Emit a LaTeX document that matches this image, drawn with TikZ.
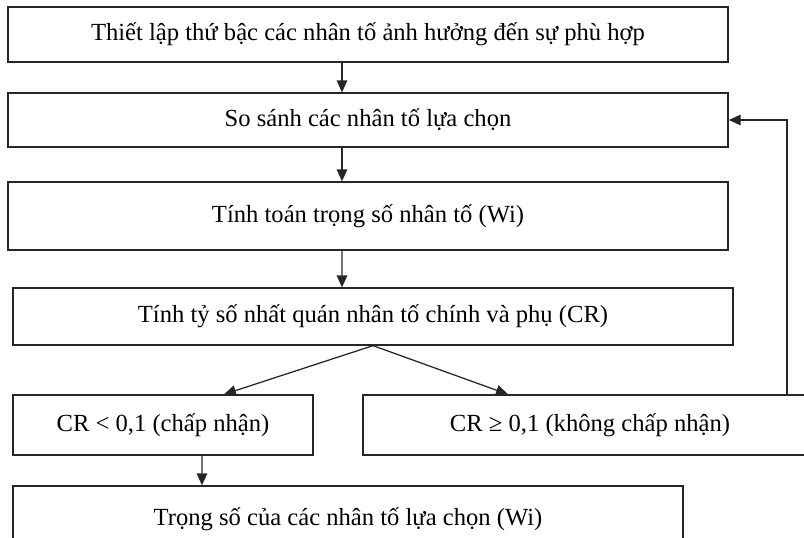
\documentclass[tikz,border=0pt]{standalone}
\usepackage{fontspec}
\setmainfont{Liberation Serif}
\usepackage{tikz}
\usetikzlibrary{arrows.meta, positioning, calc}

\begin{document}
\begin{tikzpicture}[
  x=0.025cm, y=-0.025cm,
  stepbox/.style={rectangle, draw=black!85, line width=0.9pt, align=center, inner sep=2pt, font=\fontsize{17.5}{21}\selectfont},
  arrow/.style={-{Triangle[length=8.5pt, width=7.5pt]}, line width=0.9pt, draw=black!85}
]
  \useasboundingbox (0,0) rectangle (804,538);

  % Main chain of steps
  \node[stepbox, minimum width=18cm, minimum height=1.375cm] (hier) at (368,34.5) {Thiết lập thứ bậc các nhân tố ảnh hưởng đến sự phù hợp};
  \node[stepbox, minimum width=18cm, minimum height=1.35cm] (cmp) at (368,120) {So sánh các nhân tố lựa chọn};
  \node[stepbox, minimum width=18cm, minimum height=1.7cm] (wgt) at (368,216) {Tính toán trọng số nhân tố (Wi)};
  \node[stepbox, minimum width=18cm, minimum height=1.425cm] (cr) at (373,316.5) {Tính tỷ số nhất quán nhân tố chính và phụ (CR)};

  % Consistency check outcomes
  \node[stepbox, minimum width=7.5cm, minimum height=1.5cm] (ok) at (163,425) {CR < 0,1 (chấp nhận)};
  \node[stepbox, minimum width=11.35cm, minimum height=1.5cm] (notok) at (590,425) {CR ≥ 0,1 (không chấp nhận)};

  % Final result
  \node[stepbox, minimum width=16.75cm, minimum height=1.65cm] (res) at (348,519) {Trọng số của các nhân tố lựa chọn (Wi)};

  % Connections
  \draw[arrow] ([xshift=-0.65cm]hier.south) -- ([xshift=-0.65cm]cmp.north);
  \draw[arrow] ([xshift=-0.65cm]cmp.south) -- ([xshift=-0.65cm]wgt.north);
  \draw[arrow] ([xshift=-0.65cm]wgt.south) -- ([xshift=-0.775cm]cr.north);
  \draw[arrow] (cr.south) -- ([xshift=1.525cm]ok.north);
  \draw[arrow] (cr.south) -- ([xshift=-2.05cm]notok.north);
  \draw[arrow] ([xshift=0.975cm]ok.south) -- ([xshift=-3.65cm]res.north);

  % Feedback loop back to the comparison step
  \draw[arrow] ([xshift=4.925cm]notok.north) |- (cmp.east);

\end{tikzpicture}
\end{document}
